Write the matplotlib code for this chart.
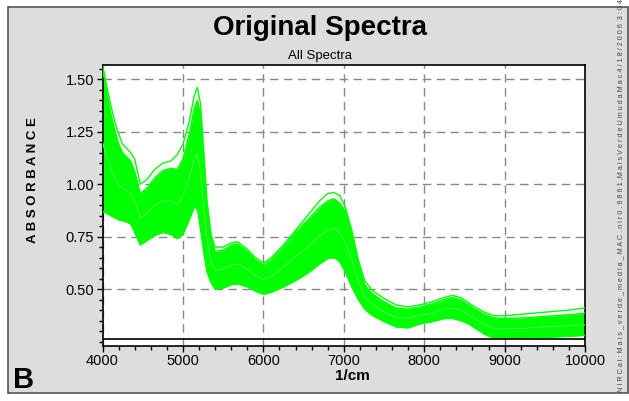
import matplotlib
matplotlib.use("Agg")
import matplotlib.pyplot as plt
from matplotlib.patches import Rectangle

# wavenumber grid (1/cm)
wn = [4000, 4050, 4100, 4150, 4200, 4250, 4300, 4350, 4400, 4470,
      4550, 4650, 4750, 4850, 4930, 5000, 5080, 5140, 5180, 5220,
      5260, 5300, 5350, 5400, 5500, 5600, 5680, 5800, 5900, 6000,
      6100, 6250, 6400, 6550, 6700, 6800, 6880, 6950, 7020, 7100,
      7180, 7260, 7350, 7500, 7650, 7800, 7950, 8100, 8250, 8350,
      8450, 8550, 8650, 8750, 8850, 8950, 9200, 9500, 9800, 10000]

# highest single spectrum
spec_top = [1.57, 1.47, 1.38, 1.30, 1.24, 1.19, 1.17, 1.15, 1.12, 1.00,
            1.02, 1.07, 1.10, 1.11, 1.14, 1.19, 1.30, 1.42, 1.46, 1.38,
            1.15, 0.92, 0.76, 0.70, 0.70, 0.72, 0.725, 0.69, 0.65, 0.625,
            0.65, 0.71, 0.78, 0.85, 0.92, 0.955, 0.96, 0.945, 0.89, 0.78,
            0.64, 0.54, 0.495, 0.455, 0.425, 0.415, 0.425, 0.44, 0.46, 0.47,
            0.46, 0.435, 0.41, 0.39, 0.375, 0.372, 0.38, 0.39, 0.40, 0.41]

# upper edge of main bundle
spec_hi = [1.55, 1.44, 1.34, 1.26, 1.19, 1.15, 1.13, 1.11, 1.06, 0.955,
           0.98, 1.03, 1.065, 1.075, 1.07, 1.12, 1.24, 1.36, 1.40, 1.33,
           1.10, 0.88, 0.74, 0.68, 0.685, 0.71, 0.715, 0.68, 0.64, 0.615,
           0.64, 0.70, 0.77, 0.83, 0.89, 0.92, 0.93, 0.91, 0.87, 0.77,
           0.63, 0.52, 0.48, 0.44, 0.41, 0.405, 0.415, 0.43, 0.45, 0.46,
           0.45, 0.425, 0.40, 0.38, 0.365, 0.36, 0.362, 0.37, 0.378, 0.385]

# a middle spectrum
spec_mid = [1.20, 1.13, 1.08, 1.03, 1.00, 0.98, 0.97, 0.96, 0.92, 0.84,
            0.86, 0.90, 0.92, 0.92, 0.90, 0.94, 1.03, 1.12, 1.14, 1.05,
            0.88, 0.73, 0.63, 0.59, 0.595, 0.615, 0.62, 0.595, 0.565, 0.545,
            0.56, 0.605, 0.655, 0.70, 0.755, 0.78, 0.79, 0.77, 0.72, 0.64,
            0.54, 0.46, 0.43, 0.39, 0.365, 0.36, 0.375, 0.385, 0.405, 0.41,
            0.40, 0.38, 0.355, 0.33, 0.315, 0.31, 0.312, 0.32, 0.325, 0.33]

# lower edge of main bundle
spec_lo = [0.87, 0.86, 0.85, 0.84, 0.83, 0.825, 0.82, 0.81, 0.77, 0.71,
           0.73, 0.755, 0.77, 0.76, 0.74, 0.76, 0.83, 0.89, 0.88, 0.78,
           0.67, 0.58, 0.53, 0.50, 0.505, 0.52, 0.525, 0.51, 0.49, 0.475,
           0.485, 0.51, 0.54, 0.575, 0.62, 0.645, 0.65, 0.63, 0.58, 0.51,
           0.45, 0.405, 0.375, 0.345, 0.32, 0.315, 0.335, 0.345, 0.36, 0.36,
           0.35, 0.335, 0.31, 0.285, 0.268, 0.265, 0.265, 0.27, 0.275, 0.28]

x_ticks = [4000, 5000, 6000, 7000, 8000, 9000, 10000]
y_ticks = [0.50, 0.75, 1.00, 1.25, 1.50]

green = "#00ff00"
bg = "#dddddd"

plt.rcParams['font.family'] = ['Liberation Sans', 'DejaVu Sans']

fig = plt.figure(figsize=(6.29, 4.01), dpi=100, facecolor="white")
W, H = 629.0, 401.0

# gray panel with dark border (behind the axes)
fig.patches.append(Rectangle((8 / W, 1 - 393 / H), 620 / W, 386 / H,
                             transform=fig.transFigure, facecolor=bg,
                             edgecolor="#555555", linewidth=1.2, zorder=-10))

ax = fig.add_axes([102.5 / W, 1 - 346 / H, (585 - 102.5) / W, (346 - 65) / H])
ax.set_zorder(5)
ax.set_facecolor("white")

ax.fill_between(wn, spec_lo, spec_hi, color=green, linewidth=0, zorder=2)
for s in (spec_top, spec_hi, spec_mid, spec_lo):
    ax.plot(wn, s, color=green, linewidth=1.0, zorder=3)
# thin light gap seen inside the bundle
ax.plot(wn, spec_mid, color="white", linewidth=0.4, alpha=0.5, zorder=3)

ax.axhline(0.262, color="black", linewidth=1.2, zorder=4)

ax.set_xlim(4000, 10000)
ax.set_ylim(0.229, 1.567)
ax.set_xticks(x_ticks)
ax.set_xticks(range(4000, 10001, 200), minor=True)
ax.set_yticks(y_ticks)
ax.set_yticks([0.25 + 0.05 * i for i in range(27)], minor=True)
ax.set_xticklabels([str(v) for v in x_ticks], fontsize=10.5)
ax.set_yticklabels(["%.2f" % v for v in y_ticks], fontsize=10.5)
ax.tick_params(which="major", direction="out", length=4, width=1, pad=2)
ax.tick_params(which="minor", direction="out", length=3, width=1)

ax.grid(True, which="major", color="#888888", linestyle=(0, (6, 4)), linewidth=1)
ax.set_axisbelow(True)
for sp in ax.spines.values():
    sp.set_color("black")
    sp.set_linewidth(1.2)

fig.text(320 / W, 1 - 28 / H, "Original Spectra", fontsize=20, fontweight="bold",
         ha="center", va="center")
fig.text(320 / W, 1 - 56 / H, "All Spectra", fontsize=9.5, ha="center", va="center")
fig.text(32.5 / W, 1 - 180 / H, "A B S O R B A N C E", fontsize=9.5,
         fontweight="bold", rotation=90, ha="center", va="center")
fig.text(352 / W, 1 - 376 / H, "1/cm", fontsize=11, fontweight="bold",
         ha="center", va="center")
fig.text(23.5 / W, 1 - 380 / H, "B", fontsize=21, fontweight="bold",
         ha="center", va="center")
fig.text(621 / W, 1 - 392 / H,
         "N I R C a l : M a i s _ v e r d e _ m e d i a _ M A C . n i r 0 . 9 8 6 1 ,"
         "M a i s V e r d e U m u d a M a c 4 / 1 8 / 2 0 0 6  3 : 0 4",
         fontsize=5.2, color="#444444", rotation=90, ha="center", va="bottom")

fig.savefig("out.png", dpi=100, facecolor="white")
